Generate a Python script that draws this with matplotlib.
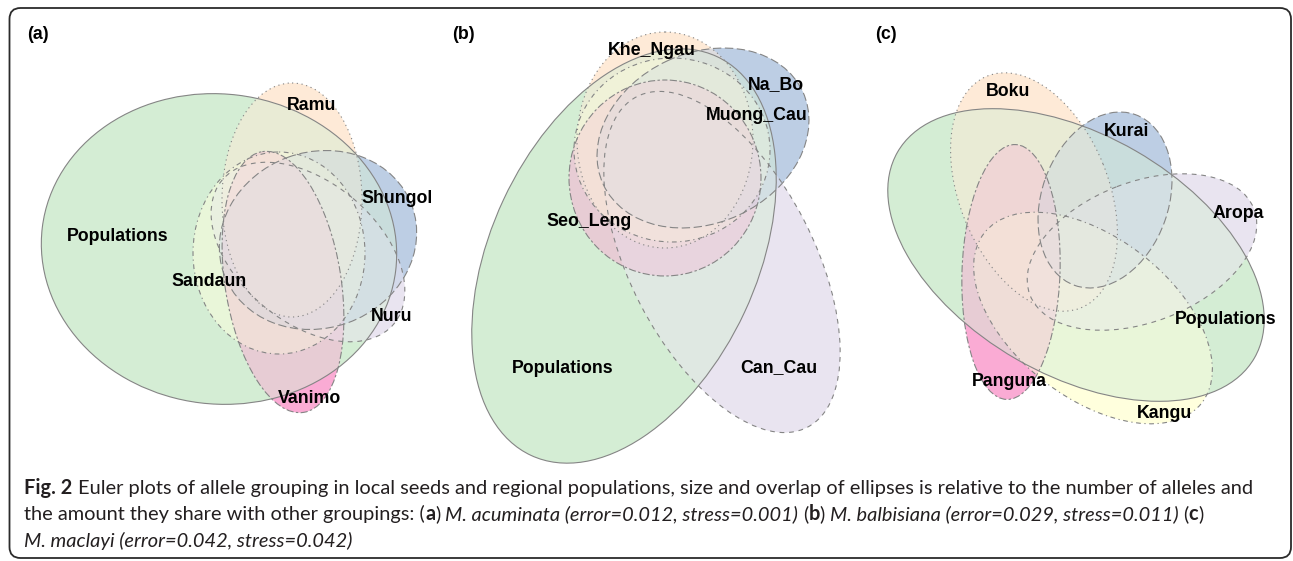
import numpy as np
import matplotlib
matplotlib.use("Agg")
import matplotlib.pyplot as plt
from matplotlib.patches import Ellipse, FancyBboxPatch

plt.rcParams["lines.scale_dashes"] = False

W, H = 1293, 561

# RColorBrewer "Accent" fills, one per set in each diagram
ACCENT = ["#7FC97F", "#BEAED4", "#FDC086", "#FFFF99", "#386CB0", "#F0027F"]
ALPHA = 0.33

# Fitted ellipses (centre h, k; semi-axes a, b; rotation phi in degrees)
# (a) M. acuminata
a_sets = ["Populations", "Nuru", "Ramu", "Sandaun", "Shungol", "Vanimo"]
a_h = [219, 308, 292, 279, 318, 283]
a_k = [249, 252, 200, 253, 240, 282]
a_a = [178, 112, 70, 86, 100, 58]
a_b = [155, 70, 117, 101, 88, 132]
a_phi = [7, 40, 0, 0, -20, -9]

# (b) M. balbisiana
b_sets = ["Populations", "Can_Cau", "Khe_Ngau", "Muong_Cau", "Na_Bo", "Seo_Leng"]
b_h = [624, 722, 665, 672, 703, 665]
b_k = [256, 262, 140, 150, 138, 178]
b_a = [220, 186, 88, 98, 110, 96]
b_b = [133, 92, 108, 92, 85, 98]
b_phi = [-65, 62.7, 0, 0, -25, 0]

# (c) M. maclayi
c_sets = ["Populations", "Aropa", "Boku", "Kangu", "Kurai", "Panguna"]
c_h = [1076, 1142, 1034, 1093, 1105, 1011]
c_k = [255, 252, 192, 318, 200, 272]
c_a = [206, 120, 125, 138, 90.6, 49]
c_b = [120, 70, 74.5, 80, 63.4, 127.5]
c_phi = [30, -21, 68, 38, -70.5, 2]

panel_tags = ["(a)", "(b)", "(c)"]

# ---------------------------------------------------------------- layout
U = 0.86  # dash unit in points
LINETYPES = [
    "-",
    (0, (4 * U, 4 * U)),
    (0, (1 * U, 3 * U)),
    (0, (1 * U, 3 * U, 4 * U, 3 * U)),
    (0, (7 * U, 3 * U)),
    (0, (2 * U, 2 * U, 6 * U, 2 * U)),
]
EDGE = "#858585"

panels = [
    dict(sets=a_sets, h=a_h, k=a_k, a=a_a, b=a_b, phi=a_phi, cols=(0, 445),
         tag_x=27,
         label_xy={"Populations": (118, 240.5), "Nuru": (392, 320.5),
                   "Ramu": (312, 109.5), "Sandaun": (209.5, 285.5),
                   "Shungol": (397, 202.5), "Vanimo": (309, 402.5)}),
    dict(sets=b_sets, h=b_h, k=b_k, a=b_a, b=b_b, phi=b_phi, cols=(445, 870),
         tag_x=452,
         label_xy={"Populations": (563, 372.5), "Can_Cau": (779, 372.5),
                   "Khe_Ngau": (652, 54.5), "Muong_Cau": (757, 119.5),
                   "Na_Bo": (775.5, 89.5), "Seo_Leng": (589.5, 225.5)}),
    dict(sets=c_sets, h=c_h, k=c_k, a=c_a, b=c_b, phi=c_phi, cols=(870, W),
         tag_x=875,
         label_xy={"Populations": (1226, 324.2), "Aropa": (1238, 217.5),
                   "Boku": (1008, 95.8), "Kangu": (1165, 417.5),
                   "Kurai": (1127, 135.8), "Panguna": (1009, 385.8)}),
]

fig = plt.figure(figsize=(W / 100, H / 100), dpi=100)
ax = fig.add_axes([0, 0, 1, 1])
ax.set_xlim(0, W)
ax.set_ylim(H, 0)
ax.axis("off")

rgb = np.array([matplotlib.colors.to_rgb(c) for c in ACCENT], dtype=np.float32)

# Region fills: every distinct overlap gets the mean colour of its sets
SS = 3
img = np.ones((H, W, 3), dtype=np.float32)
for p in panels:
    c0, c1 = p["cols"]
    xs = c0 + (np.arange((c1 - c0) * SS, dtype=np.float32) + 0.5) / SS
    ys = (np.arange(H * SS, dtype=np.float32) + 0.5) / SS
    X, Y = np.meshgrid(xs, ys)
    acc = np.zeros(X.shape + (3,), dtype=np.float32)
    cnt = np.zeros(X.shape, dtype=np.float32)
    for i in range(len(p["sets"])):
        t = np.deg2rad(p["phi"][i])
        dx = X - p["h"][i]
        dy = Y - p["k"][i]
        u = dx * np.cos(t) + dy * np.sin(t)
        v = -dx * np.sin(t) + dy * np.cos(t)
        inside = (u / p["a"][i]) ** 2 + (v / p["b"][i]) ** 2 <= 1.0
        acc[inside] += rgb[i]
        cnt += inside
    mixed = acc / np.maximum(cnt, 1.0)[..., None]
    out = np.where(cnt[..., None] > 0, 1 - ALPHA + ALPHA * mixed, 1.0)
    out = out.reshape(H, SS, c1 - c0, SS, 3).mean(axis=(1, 3))
    img[:, c0:c1] = out

ax.imshow(img, extent=(0, W, H, 0), interpolation="nearest", aspect="auto", zorder=0)

LABEL_FONT = ["Liberation Sans", "DejaVu Sans"]
for p, tag in zip(panels, panel_tags):
    for i, name in enumerate(p["sets"]):
        ax.add_patch(Ellipse((p["h"][i], p["k"][i]), 2 * p["a"][i], 2 * p["b"][i],
                             angle=p["phi"][i], fill=False, ec=EDGE, lw=0.8,
                             ls=LINETYPES[i], zorder=2))
    for name in p["sets"]:
        x, y = p["label_xy"][name]
        ax.text(x, y, name, ha="center", va="baseline", fontsize=12.8,
                fontweight="bold", family=LABEL_FONT, color="black", zorder=3)
    ax.text(p["tag_x"], 39, tag, ha="left", va="baseline", fontsize=12.8,
            fontweight="bold", family=LABEL_FONT, color="black", zorder=3)

# Rounded frame around the figure
ax.add_patch(FancyBboxPatch((9.5, 8), 1281.5, 550,
                            boxstyle="round,pad=0,rounding_size=11",
                            fill=False, ec="#2b2b2b", lw=1.3, zorder=4))

# ---------------------------------------------------------------- caption
CAP_FONT = ["Lato", "DejaVu Sans"]
CAP_COLOR = "#231f20"
renderer = fig.canvas.get_renderer()
STYLES = {"r": dict(weight="normal", style="normal"),
          "b": dict(weight="bold", style="normal"),
          "i": dict(weight="normal", style="italic")}


def advance(text, st, size):
    def w(s):
        t = ax.text(0, 0, s, fontsize=size, family=CAP_FONT,
                    fontweight=STYLES[st]["weight"], fontstyle=STYLES[st]["style"])
        bb = t.get_window_extent(renderer)
        t.remove()
        return bb.width
    return w("|" + text + "|") - w("||")


def line_width(runs, size):
    return sum(advance(txt, st, size) for txt, st in runs)


def draw_runs(x, y, runs, size):
    for txt, st in runs:
        body = txt.lstrip(" ")
        lead = len(txt) - len(body)
        if lead:
            x += advance(" " * lead, st, size)
        ax.text(x, y, body, fontsize=size, family=CAP_FONT, color=CAP_COLOR,
                fontweight=STYLES[st]["weight"], fontstyle=STYLES[st]["style"],
                ha="left", va="baseline", zorder=3)
        x += advance(body, st, size)


cap1 = [("Fig. 2", "b"),
        (" Euler plots of allele grouping in local seeds and regional populations, size and "
         "overlap of ellipses is relative to the number of alleles and", "r")]
cap2 = [("the amount they share with other groupings: (", "r"), ("a", "b"), (")", "r"),
        (" M. acuminata (error=0.012, stress=0.001)", "i"),
        (" (", "r"), ("b", "b"), (")", "r"),
        (" M. balbisiana (error=0.029, stress=0.011)", "i"),
        (" (", "r"), ("c", "b"), (")", "r")]
cap3 = [("M. maclayi (error=0.042, stress=0.042)", "i")]

base = 11.0
cap_size = base * 1226.0 / line_width(cap1, base)
draw_runs(24.5, 493.5, cap1, cap_size)
draw_runs(24.5, 520, cap2, cap_size)
draw_runs(24.5, 546.5, cap3, cap_size)

fig.savefig("out.png", dpi=100)
